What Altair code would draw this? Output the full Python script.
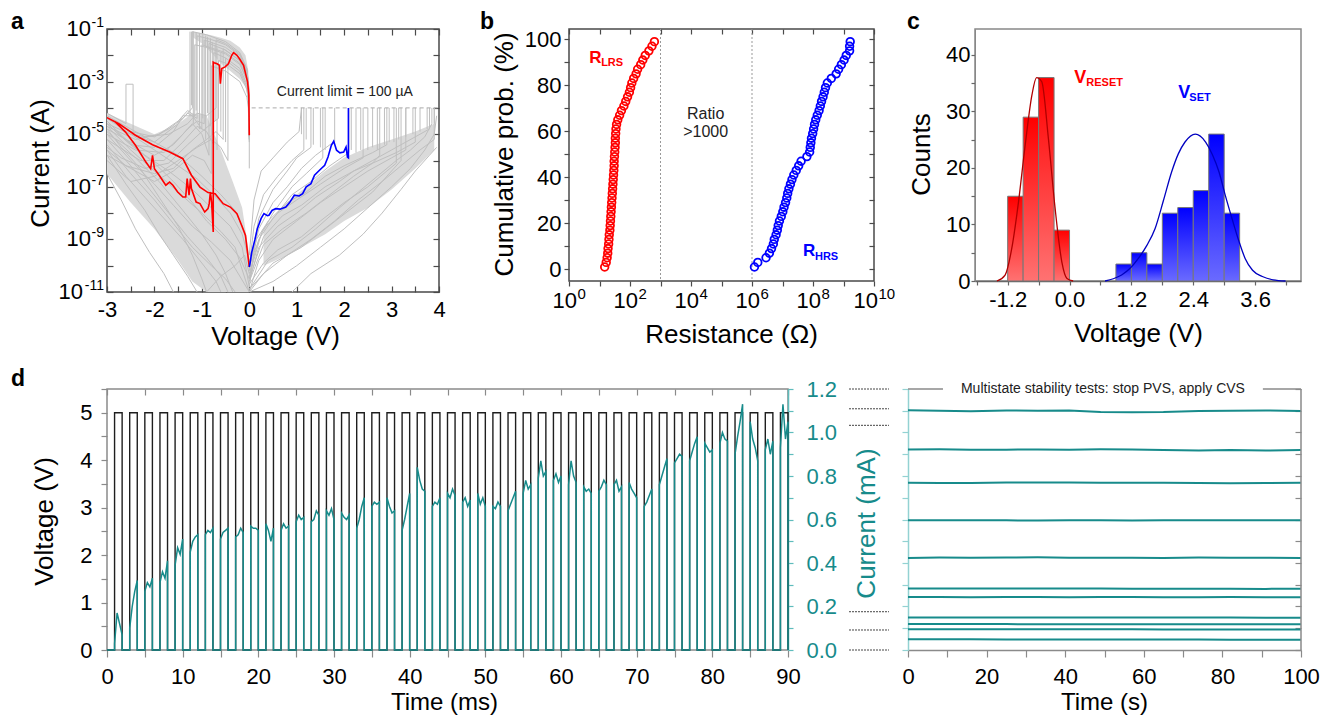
import altair as alt
import pandas as pd

FONT = "Liberation Sans"
TEAL = "#178b8b"
TEAL_AX = "#5fbcbc"
TEAL_AX2 = "#93d2d2"
DARK = "#4a4a4a"
GREY = "#8a8a8a"
LBL = 22
TTL = 26
MINUS = "\u2212"

# ---------------- panel a : I-V sweeps (values are log10 of current in A) ----------------
RED_V = [0, -0.01, -0.035, -0.12, -0.2, -0.26, -0.33, -0.37, -0.44, -0.51, -0.58, -0.61, -0.63, -0.68, -0.74,
         -0.76, -0.76, -0.795, -0.82, -0.845, -0.87, -0.94, -1.04, -1.12, -1.22, -1.24, -1.27, -1.31, -1.34,
         -1.40, -1.51, -1.61, -1.68, -1.76, -1.9, -2.0, -2.04, -2.08, -2.18, -2.4, -2.61, -2.82, -3.0, -2.75,
         -2.4, -2.04, -1.68, -1.40, -1.22, -1.04, -0.87, -0.72, -0.55, -0.40, -0.26, -0.16, -0.08, 0]
RED_LOGI = [-5.04, -3.5, -3.02, -2.38, -2.15, -2.0, -1.9, -2.0, -2.32, -2.44, -2.5, -3.08, -2.38, -2.32, -2.28,
            -2.26, -8.72, -7.58, -7.2, -7.64, -7.83, -7.96, -7.64, -7.58, -7.07, -6.69, -7.32, -6.69, -7.39,
            -7.39, -7.2, -6.94, -6.82, -6.94, -6.56, -6.31, -5.80, -6.31, -6.06, -5.42, -4.92, -4.54, -4.37, -4.6,
            -5.04, -5.40, -5.68, -5.93, -6.56, -7.01, -7.22, -7.26, -7.64, -7.77, -8.02, -8.47, -8.85, -10.05]
BLUE_V = [0, 0.02, 0.05, 0.12, 0.17, 0.25, 0.31, 0.38, 0.414, 0.48, 0.556, 0.65, 0.77, 0.85, 0.95, 1.05, 1.125,
          1.2, 1.30, 1.375, 1.48, 1.59, 1.66, 1.73, 1.78, 1.84, 1.91, 1.99, 2.04, 2.07, 2.09, 2.09]
BLUE_LOGI = [-10.05, -9.86, -9.5, -9.0, -8.59, -8.2, -8.02, -8.1, -8.08, -7.9, -7.83, -7.85, -7.77, -7.6, -7.32,
             -7.35, -7.26, -7.0, -6.88, -6.56, -6.37, -6.18, -5.87, -5.42, -5.27, -5.61, -5.71, -5.68, -5.49,
             -5.87, -5.9, -4.0]

GRAY_RESET = [
    [(0, -6.3), (0, -4.6), (-0.01, -3.2), (-0.05, -2.5), (-0.2, -1.9), (-0.5, -1.48), (-0.9, -1.22), (-1.2, -1.1),
     (-1.2, -4.0), (-1.4, -4.4), (-1.7, -4.8), (-2.0, -5.1), (-2.5, -4.9), (-3, -4.4)],
    [(0, -4.7), (-0.01, -3.3), (-0.05, -2.6), (-0.2, -2.0), (-0.5, -1.6), (-0.8, -1.4), (-1.1, -1.26),
     (-1.1, -4.4), (-1.3, -4.2), (-1.5, -4.6), (-2.0, -5.3), (-2.5, -5.0), (-3, -4.6)],
    [(0, -4.8), (-0.01, -3.4), (-0.05, -2.7), (-0.2, -2.1), (-0.5, -1.7), (-0.95, -1.42), (-0.95, -4.6),
     (-1.1, -4.5), (-1.3, -4.8), (-1.6, -5.4), (-2.0, -5.8), (-2.5, -5.3), (-3, -4.8)],
    [(0, -4.9), (-0.01, -3.5), (-0.05, -2.8), (-0.2, -2.2), (-0.5, -1.8), (-0.85, -1.55), (-0.85, -5.8),
     (-1.0, -5.0), (-1.2, -4.6), (-1.4, -5.0), (-1.8, -5.7), (-2.4, -5.6), (-3, -5.0)],
    [(0, -5.0), (-0.01, -3.6), (-0.05, -2.9), (-0.2, -2.3), (-0.5, -1.9), (-1.0, -1.6), (-1.0, -4.8),
     (-1.2, -4.3), (-1.4, -4.3), (-1.6, -4.9), (-2.0, -5.5), (-2.5, -5.4), (-3, -4.6)],
    [(0, -5.0), (-0.01, -3.8), (-0.05, -3.1), (-0.2, -2.5), (-0.5, -2.1), (-0.75, -1.9), (-0.75, -5.4),
     (-0.9, -4.9), (-1.1, -4.7), (-1.4, -5.3), (-1.8, -6.0), (-2.3, -6.0), (-3, -5.2)],
    [(0, -5.2), (-0.02, -3.7), (-0.05, -3.3), (-0.2, -2.7), (-0.5, -2.3), (-0.65, -2.2), (-0.65, -4.4),
     (-0.8, -4.6), (-1.0, -4.9), (-1.3, -5.4), (-1.7, -6.1), (-2.2, -6.3), (-2.7, -5.9), (-3, -5.5)],
    [(0, -5.3), (-0.02, -4.0), (-0.05, -3.6), (-0.2, -3.0), (-0.5, -2.6), (-0.8, -2.4), (-0.8, -6.5),
     (-0.95, -6.0), (-1.2, -5.8), (-1.6, -6.4), (-2.0, -6.8), (-2.5, -6.3), (-3, -5.8)],
    [(0, -4.9), (-0.01, -3.5), (-0.05, -2.8), (-0.2, -2.2), (-0.55, -1.75), (-0.55, -5.2), (-0.7, -4.9),
     (-0.9, -5.2), (-1.2, -5.6), (-1.6, -6.3), (-2.0, -6.5), (-2.6, -6.2), (-3, -5.6)],
    [(0, -4.7), (-0.01, -3.25), (-0.05, -2.55), (-0.2, -1.95), (-0.5, -1.55), (-0.7, -1.41), (-0.7, -4.0),
     (-0.9, -4.3), (-1.1, -4.2), (-1.3, -4.6), (-1.7, -5.0), (-2.2, -5.1), (-2.45, -5.0), (-2.45, -3.1),
     (-2.6, -3.1), (-2.6, -4.6), (-3, -4.2)],
    [(0, -5.1), (-0.01, -3.6), (-0.05, -2.95), (-0.2, -2.35), (-0.5, -1.95), (-0.9, -1.7), (-1.15, -1.6),
     (-1.15, -4.3), (-1.3, -4.1), (-1.5, -4.5), (-1.9, -5.0), (-2.4, -5.2), (-3, -4.7)],
    [(0, -5.2), (-0.01, -3.9), (-0.05, -3.2), (-0.2, -2.6), (-0.45, -2.25), (-0.45, -6.0), (-0.6, -5.5),
     (-0.8, -5.2), (-1.1, -5.5), (-1.5, -6.0), (-2.0, -6.6), (-2.5, -6.8), (-3, -6.0)],
]
# extra reset drops (V, top, bottom) and set jumps (V, start) seen as vertical grey strokes
RESET_DROPS = [(-1.25, -1.1, -4.3), (-1.22, -1.1, -3.9), (-1.18, -1.1, -4.6), (-1.12, -1.12, -4.1),
               (-1.05, -1.15, -4.8), (-0.98, -1.2, -4.4), (-0.92, -1.25, -5.2), (-0.88, -1.3, -4.2),
               (-0.82, -1.35, -4.7), (-0.78, -1.5, -5.0), (-0.72, -1.6, -4.5), (-0.68, -1.7, -5.6),
               (-0.6, -1.9, -4.9), (-0.5, -2.1, -5.3)]
SET_JUMPS = [(1.1, -5.0), (1.2, -5.2), (1.35, -5.4), (1.5, -5.5), (1.6, -5.6), (2.15, -5.6), (2.25, -5.7),
             (2.35, -5.6), (2.5, -5.6), (2.6, -5.5), (2.7, -5.6), (2.85, -5.4), (2.95, -5.3), (3.05, -5.3),
             (3.15, -5.2), (3.3, -5.1), (3.45, -5.0), (3.6, -4.9), (3.75, -4.8), (3.9, -4.6)]
SET_LIMIT = -4.0
GRAY_HRS_NEG = [
    [(-3, -4.3), (-2.5, -4.8), (-2, -5.3), (-1.5, -5.8), (-1.0, -6.6), (-0.6, -7.3), (-0.3, -7.9), (-0.1, -8.7), (0, -10.0)],
    [(-3, -4.5), (-2.6, -5.2), (-2.2, -5.8), (-1.7, -6.4), (-1.2, -7.1), (-0.8, -7.8), (-0.4, -8.5), (-0.15, -9.3), (0, -10.8)],
    [(-3, -4.7), (-2.5, -5.6), (-2.0, -6.4), (-1.5, -7.2), (-1.0, -8.0), (-0.6, -8.7), (-0.3, -9.3), (0, -11)],
    [(-3, -5.0), (-2.5, -6.0), (-2.0, -6.9), (-1.6, -7.7), (-1.2, -8.5), (-0.8, -9.1), (-0.4, -9.8), (0, -11)],
    [(-3, -5.4), (-2.5, -6.5), (-2.0, -7.5), (-1.6, -8.4), (-1.2, -9.3), (-0.8, -10.0), (-0.5, -10.5), (-0.3, -11)],
    [(-3, -5.8), (-2.6, -6.9), (-2.2, -7.9), (-1.9, -8.8), (-1.6, -9.6), (-1.3, -10.4), (-1.1, -11)],
    [(-3, -6.5), (-2.7, -7.5), (-2.4, -8.6), (-2.1, -9.5), (-1.8, -10.3), (-1.6, -11)],
    [(-3, -4.4), (-2.5, -5.0), (-2.0, -5.6), (-1.5, -6.2), (-1.1, -6.7), (-0.7, -7.4), (-0.4, -8.0), (-0.15, -8.8), (0, -9.8)],
    [(-3, -4.9), (-2.4, -5.9), (-1.9, -6.8), (-1.4, -7.9), (-1.0, -8.8), (-0.7, -9.6), (-0.5, -10.3), (-0.35, -11)],
    [(-3, -5.2), (-2.5, -6.2), (-2.1, -7.1), (-1.7, -8.0), (-1.3, -8.9), (-0.9, -9.7), (-0.6, -10.4), (-0.45, -11)],
    [(-3, -4.6), (-2.5, -5.4), (-2.0, -6.1), (-1.6, -6.8), (-1.2, -7.6), (-0.9, -8.3), (-0.5, -9.0), (-0.2, -9.7), (0, -10.5)],
    [(-3, -5.6), (-2.6, -6.6), (-2.2, -7.4), (-1.8, -8.2), (-1.4, -9.0), (-1.0, -9.9), (-0.7, -10.6), (-0.6, -11)],
    [(-0.9, -11), (-0.6, -10.4), (-0.3, -10.0), (-0.1, -9.6), (0, -10.3)],
    [(-3, -4.8), (-2.7, -5.5), (-2.3, -6.3), (-1.9, -7.4), (-1.5, -8.5), (-1.2, -9.6), (-1.0, -10.5), (-0.9, -11)],
]
GRAY_SET = [
    [(0, -10.8), (0.1, -9.5), (0.3, -8.6), (0.6, -8.0), (1.0, -7.5), (1.5, -6.9), (2.0, -6.3), (2.4, -5.9), (2.4, -4.0)],
    [(0, -10.5), (0.15, -9.0), (0.4, -8.3), (0.8, -7.6), (1.2, -7.2), (1.6, -6.6), (2.0, -6.2), (2.6, -5.7), (2.9, -5.4), (2.9, -4.0)],
    [(0, -10.0), (0.1, -8.5), (0.3, -7.3), (0.6, -6.6), (0.9, -6.0), (1.15, -5.6), (1.15, -4.0)],
    [(0, -11), (0.2, -9.8), (0.5, -9.0), (1.0, -8.3), (1.5, -7.6), (2.0, -7.0), (2.5, -6.4), (3.0, -5.9), (3.3, -5.6), (3.3, -4.0)],
    [(0, -11), (0.3, -10.3), (0.8, -9.6), (1.3, -9.0), (1.8, -8.3), (2.3, -7.5), (2.8, -6.8), (3.2, -6.2), (3.6, -5.6), (3.9, -5.2), (3.9, -4.0)],
    [(0.9, -11), (1.3, -10.3), (1.9, -9.6), (2.4, -8.8), (2.8, -8.0), (3.2, -7.1), (3.5, -6.4), (3.8, -5.8), (3.95, -5.5)],
    [(0, -10.2), (0.2, -8.2), (0.5, -7.1), (0.8, -6.4), (1.0, -5.9), (1.3, -5.5), (1.3, -4.0)],
    [(0, -10.6), (0.3, -9.2), (0.7, -8.6), (1.2, -8.0), (1.7, -7.3), (2.2, -6.6), (2.6, -6.1), (3.1, -5.7), (3.5, -5.3), (3.5, -4.0)],
    [(0, -10.9), (0.4, -9.8), (0.9, -9.3), (1.4, -8.6), (1.9, -7.8), (2.3, -7.2), (2.7, -6.6), (3.1, -6.0), (3.4, -5.6), (3.7, -5.1), (3.85, -4.6), (3.85, -4.0)],
    [(0, -10.3), (0.2, -9.0), (0.5, -8.2), (0.9, -7.3), (1.3, -6.8), (1.7, -6.2), (2.1, -5.7), (2.1, -4.0)],
    [(0, -10.7), (0.3, -9.9), (0.6, -9.4), (1.1, -8.9), (1.5, -8.3), (2.0, -7.6), (2.5, -7.0), (2.9, -6.4), (3.1, -6.1), (3.1, -4.0)],
    [(0, -10.4), (0.25, -8.8), (0.5, -8.0), (0.9, -7.0), (1.2, -6.5), (1.55, -5.9), (1.55, -4.0)],
    [(0, -11), (0.5, -10.6), (1.0, -10.0), (1.5, -9.3), (2.0, -8.6), (2.5, -7.8), (3.0, -7.0), (3.4, -6.3), (3.7, -5.6), (3.9, -5.0), (3.95, -4.3)],
    [(0, -10.1), (0.2, -8.6), (0.5, -7.6), (0.8, -7.0), (1.1, -6.3), (1.4, -5.8), (1.7, -5.4), (1.8, -5.3), (1.8, -4.0)],
    [(0, -9.6), (0.1, -7.5), (0.25, -6.4), (0.5, -5.9), (0.8, -5.3), (1.05, -4.9), (1.1, -4.0)],
    [(0, -10.5), (0.3, -8.9), (0.7, -8.1), (1.1, -7.7), (1.6, -7.0), (2.1, -6.5), (2.6, -6.0), (3.0, -5.6), (3.6, -5.0), (3.8, -4.8), (3.8, -4.0)],
    [(0, -10.9), (0.5, -9.9), (1.1, -9.3), (1.6, -8.6), (2.1, -7.9), (2.6, -7.2), (3.0, -6.4), (3.2, -6.0), (3.2, -4.0)],
    [(0, -10.6), (0.2, -9.3), (0.6, -8.5), (1.0, -8.0), (1.4, -7.4), (1.9, -6.8), (2.2, -6.4), (2.6, -6.1), (2.75, -5.8), (2.75, -4.0)],
]
# dense cores of the grey bundles (where the many sweeps merge into a solid grey)
ARC_BAND_V = [-1.2, -1.0, -0.8, -0.6, -0.4, -0.2, -0.08, -0.02, 0]
ARC_BAND_HI = [-1.1, -1.16, -1.24, -1.33, -1.45, -1.7, -2.0, -2.6, -4.3]
ARC_BAND_LO = [-1.3, -1.55, -1.9, -2.3, -2.6, -2.9, -3.2, -3.7, -5.0]
NEG_BAND_V = [-3, -2.5, -2.0, -1.5, -1.2, -0.9, -0.6, -0.35, -0.15, 0]
NEG_BAND_HI = [-4.2, -4.6, -5.0, -4.6, -4.2, -4.3, -5.6, -6.8, -7.8, -9.6]
NEG_BAND_LO = [-6.5, -7.6, -8.6, -9.8, -10.6, -11, -11, -11, -11, -11]
POS_BAND_V = [0.3, 0.8, 1.2, 1.6, 2.0, 2.5, 3.0, 3.5, 3.9]
POS_BAND_HI = [-8.6, -7.6, -7.0, -6.4, -5.9, -5.5, -5.2, -4.9, -4.6]
POS_BAND_LO = [-10.0, -9.6, -9.2, -8.8, -8.3, -7.8, -7.1, -6.3, -5.6]

LIMIT_V = [0.05, 3.98]
LIMIT_LOGI = -4.0
A_XTICKS = [-3, -2.5, -2, -1.5, -1, -0.5, 0, 0.5, 1, 1.5, 2, 2.5, 3, 3.5, 4]
A_YTICKS = [-11, -10, -9, -8, -7, -6, -5, -4, -3, -2, -1]
A_YLABEL_EXP = [-11, -9, -7, -5, -3, -1]

# ---------------- panel b : cumulative probability ----------------
PROB = [1, 3, 5, 7, 9, 11, 13, 15, 17, 19, 21, 23, 25, 27, 29, 31, 33, 35, 37, 39, 41, 43, 45, 47, 49,
        51, 53, 55, 57, 59, 61, 63, 65, 67, 69, 71, 73, 75, 77, 79, 81, 83, 85, 87, 89, 91, 93, 95, 97, 99]
LRS_LOGR = [1.17, 1.22, 1.25, 1.27, 1.28, 1.30, 1.31, 1.32, 1.34, 1.35, 1.36, 1.37, 1.38, 1.39, 1.40, 1.41,
            1.42, 1.43, 1.44, 1.45, 1.46, 1.47, 1.48, 1.48, 1.49, 1.50, 1.51, 1.52, 1.52, 1.53, 1.54, 1.56,
            1.60, 1.66, 1.72, 1.80, 1.86, 1.92, 1.98, 2.02, 2.06, 2.12, 2.20, 2.25, 2.35, 2.42, 2.50, 2.62,
            2.72, 2.80]
HRS_LOGR = [6.08, 6.19, 6.46, 6.57, 6.64, 6.70, 6.73, 6.79, 6.83, 6.86, 6.90, 6.96, 7.01, 7.05, 7.10, 7.14,
            7.17, 7.21, 7.26, 7.31, 7.37, 7.45, 7.53, 7.61, 7.80, 7.89, 7.91, 7.93, 7.95, 7.99, 8.02, 8.05,
            8.09, 8.14, 8.20, 8.24, 8.28, 8.33, 8.37, 8.41, 8.47, 8.60, 8.76, 8.84, 8.93, 9.02, 9.09, 9.20,
            9.20, 9.22]
B_XTICKS = [0, 1, 2, 3, 4, 5, 6, 7, 8, 9, 10]
B_XLABEL_EXP = [0, 2, 4, 6, 8]
B_XLABEL_EXP2 = [10]
B_YTICKS = [0, 10, 20, 30, 40, 50, 60, 70, 80, 90, 100]
B_GUIDES = [3, 6]

# ---------------- panel c : histograms ----------------
BIN_W = 0.3
RESET_BIN = [-1.2, -0.9, -0.6, -0.3]
RESET_CNT = [15, 29, 36, 9]
SET_BIN = [0.9, 1.2, 1.5, 1.8, 2.1, 2.4, 2.7, 3.0]
SET_CNT = [3, 5, 3, 12, 13, 16, 26, 12]
RESET_FIT_V = [-1.41, -1.25, -1.12, -0.99, -0.86, -0.73, -0.64, -0.54, -0.41, -0.28, -0.15, -0.05, 0.07]
RESET_FIT_N = [0, 1.06, 5.8, 14.0, 24.1, 32.9, 36.0, 35.3, 25.2, 12.85, 3.4, 0.46, 0]
SET_FIT_V = [0.69, 0.85, 1.01, 1.17, 1.335, 1.5, 1.66, 1.82, 1.98, 2.11, 2.24, 2.44, 2.64, 2.77, 2.90, 3.02,
             3.15, 3.28, 3.406, 3.55, 3.74, 3.95, 4.19]
SET_FIT_N = [0, 0.4, 1.06, 2.2, 4.0, 6.3, 9.3, 14.2, 19.3, 22.5, 24.6, 26.0, 24.6, 22.4, 19.3, 15.2, 11.1, 7.2,
             4.0, 1.9, 0.8, 0.2, 0]
C_XTICKS = [-1.8, -1.2, -0.6, 0, 0.6, 1.2, 1.8, 2.4, 3.0, 3.6, 4.2]
C_YTICKS = [0, 5, 10, 15, 20, 25, 30, 35, 40]

# ---------------- panel d (left) : pulse train ----------------
PULSE_START = [1, 3, 5, 7, 9, 11, 13, 15, 17, 19, 21, 23, 25, 27, 29, 31, 33, 35, 37, 39, 41, 43, 45,
               47, 49, 51, 53, 55, 57, 59, 61, 63, 65, 67, 69, 71, 73, 75, 77, 79, 81, 83, 85, 87, 89]
PULSE_WIDTH = 1.0
V_HIGH = 5.0
I_LEVELS = [
    [0.03, 0.17, 0.12, 0.07], [0.10, 0.20, 0.27, 0.32], [0.27, 0.31, 0.29, 0.33], [0.31, 0.36, 0.33, 0.41],
    [0.39, 0.47, 0.44, 0.51], [0.45, 0.50, 0.52, 0.53], [0.53, 0.55, 0.54, 0.56], [0.51, 0.54, 0.55, 0.56],
    [0.52, 0.53, 0.56, 0.54], [0.57, 0.56, 0.56, 0.55], [0.58, 0.55, 0.50, 0.56], [0.55, 0.58, 0.56, 0.57],
    [0.59, 0.62, 0.60, 0.61], [0.59, 0.60, 0.64, 0.62], [0.64, 0.62, 0.65, 0.60], [0.63, 0.61, 0.60, 0.62],
    [0.56, 0.60, 0.66, 0.70], [0.66, 0.68, 0.67, 0.68], [0.70, 0.66, 0.63, 0.64], [0.55, 0.60, 0.66, 0.72],
    [0.84, 0.78, 0.74, 0.73], [0.66, 0.68, 0.67, 0.70], [0.72, 0.70, 0.74, 0.71], [0.68, 0.70, 0.66, 0.69],
    [0.72, 0.67, 0.70, 0.66], [0.66, 0.65, 0.68, 0.66], [0.64, 0.67, 0.70, 0.73], [0.72, 0.78, 0.74, 0.76],
    [0.79, 0.87, 0.80, 0.82], [0.78, 0.81, 0.77, 0.80], [0.76, 0.87, 0.80, 0.77], [0.75, 0.73, 0.74, 0.72],
    [0.73, 0.75, 0.78, 0.76], [0.76, 0.78, 0.73, 0.75], [0.77, 0.74, 0.72, 0.70], [0.66, 0.68, 0.71, 0.74],
    [0.76, 0.80, 0.84, 0.88], [0.86, 0.88, 0.90, 0.89], [0.87, 0.91, 0.95, 0.98], [0.95, 0.93, 0.91, 0.92],
    [0.95, 1.00, 0.97, 0.96], [0.90, 0.98, 1.05, 1.13], [1.05, 0.97, 0.93, 0.87], [0.92, 0.97, 0.90, 0.96],
    [0.93, 1.13, 0.97, 1.05],
]
D_XTICKS = [0, 5, 10, 15, 20, 25, 30, 35, 40, 45, 50, 55, 60, 65, 70, 75, 80, 85, 90]
D_VTICKS = [0, 0.5, 1, 1.5, 2, 2.5, 3, 3.5, 4, 4.5, 5, 5.5]
D_ITICKS = [0, 0.1, 0.2, 0.3, 0.4, 0.5, 0.6, 0.7, 0.8, 0.9, 1.0, 1.1, 1.2]
GUIDE_LEVELS = [1.2, 1.109, 1.033, 0.176, 0.092, 0.0]

# ---------------- panel d (right) : multistate retention ----------------
DR_T = [0, 8, 16, 25, 33, 41, 49, 57, 65, 74, 82, 91, 100]
DR_LEVELS = [
    [1.102, 1.100, 1.098, 1.101, 1.100, 1.101, 1.094, 1.093, 1.094, 1.099, 1.100, 1.101, 1.099],
    [0.922, 0.923, 0.921, 0.921, 0.922, 0.921, 0.923, 0.922, 0.920, 0.917, 0.919, 0.917, 0.919],
    [0.769, 0.768, 0.768, 0.770, 0.770, 0.770, 0.769, 0.769, 0.769, 0.768, 0.767, 0.768, 0.769],
    [0.597, 0.596, 0.597, 0.596, 0.595, 0.596, 0.596, 0.595, 0.596, 0.596, 0.597, 0.596, 0.596],
    [0.423, 0.425, 0.424, 0.425, 0.426, 0.424, 0.424, 0.424, 0.423, 0.425, 0.424, 0.424, 0.423],
    [0.283, 0.283, 0.283, 0.283, 0.283, 0.283, 0.283, 0.282, 0.282, 0.282, 0.282, 0.281, 0.282],
    [0.244, 0.244, 0.243, 0.244, 0.244, 0.243, 0.244, 0.244, 0.243, 0.243, 0.244, 0.243, 0.243],
    [0.150, 0.150, 0.149, 0.149, 0.149, 0.149, 0.149, 0.149, 0.149, 0.149, 0.149, 0.148, 0.148],
    [0.119, 0.119, 0.119, 0.119, 0.118, 0.118, 0.118, 0.118, 0.118, 0.118, 0.118, 0.118, 0.118],
    [0.095, 0.095, 0.095, 0.095, 0.095, 0.095, 0.095, 0.095, 0.094, 0.094, 0.094, 0.094, 0.094],
    [0.049, 0.049, 0.049, 0.048, 0.048, 0.048, 0.048, 0.048, 0.048, 0.048, 0.047, 0.047, 0.047],
]
DR_XTICKS = [0, 10, 20, 30, 40, 50, 60, 70, 80, 90, 100]
DR_GAP = [8.9, 90.3]

# ======================= helpers =======================
ONE = pd.DataFrame({"k": [0]})


def curves_df(curves):
    rows = []
    for k, c in enumerate(curves):
        for i, (x, y) in enumerate(c):
            rows.append({"curve": k, "i": i, "x": x, "y": y})
    return pd.DataFrame(rows)


def series_df(xs, ys):
    return pd.DataFrame({"x": xs, "y": ys, "i": list(range(len(xs)))})


def letter(ch, dx, dy):
    return alt.Chart(ONE).mark_text(text=ch, fontSize=23, fontWeight="bold", font=FONT, align="left",
                                    baseline="alphabetic", color="black").encode(
        x=alt.value(dx), y=alt.value(dy))


def spacer(x1, y1, x2, y2):
    return alt.Chart(ONE).mark_rule(opacity=0).encode(
        x=alt.value(x1), y=alt.value(y1), x2=alt.value(x2), y2=alt.value(y2))


def mirror(orient, values, size=6, color=DARK):
    return alt.Axis(orient=orient, offset=-size, values=values, tickSize=size, labels=False, domain=False,
                    title=None, tickColor=color, tickWidth=1.2)


def hidden(orient):
    return alt.Axis(orient=orient, ticks=False, labels=False, domain=False, title=None)


# ======================= panel a =======================
WA, HA = 332, 263
XA = alt.Scale(domain=[-3, 4], nice=False, zero=False)
YA = alt.Scale(domain=[-11, -1], nice=False, zero=False)

ax_a_b = alt.Axis(orient="bottom", offset=-6, values=A_XTICKS, tickSize=6, domain=False, labelPadding=7,
                  tickColor=DARK, tickWidth=1.2,
                  labelExpr="datum.value % 1 == 0 ? replace(format(datum.value, 'd'), '" + MINUS + "', '-') : ''",
                  title="Voltage (V)", titleX=168, titleY=50, titleBaseline="middle", titleAlign="center")
ax_a_l = alt.Axis(orient="left", offset=-6, values=A_YTICKS, tickSize=6, domain=False, labels=False,
                  tickColor=DARK, tickWidth=1.2,
                  title="Current (A)", titleX=-73, titleY=134, titleAngle=270, titleBaseline="middle",
                  titleAlign="center")


def band(vs, his, los):
    return pd.DataFrame({"x": vs, "y": his, "y2": los})


band_layers = [
    alt.Chart(band(v, h, l)).mark_area(color="#dadada", clip=True).encode(
        x=alt.X("x:Q", scale=XA, axis=None), y=alt.Y("y:Q", scale=YA, axis=None), y2="y2:Q")
    for v, h, l in [(ARC_BAND_V, ARC_BAND_HI, ARC_BAND_LO), (NEG_BAND_V, NEG_BAND_HI, NEG_BAND_LO),
                    (POS_BAND_V, POS_BAND_HI, POS_BAND_LO)]
]
drops = [[(v, t), (v, b)] for v, t, b in RESET_DROPS] + [[(v, s), (v, SET_LIMIT)] for v, s in SET_JUMPS]
gray_df = curves_df(GRAY_RESET + GRAY_HRS_NEG + GRAY_SET + drops)
a_gray = alt.Chart(gray_df).mark_line(color="#bfbfbf", strokeWidth=1, clip=True).encode(
    x=alt.X("x:Q", scale=XA, axis=ax_a_b), y=alt.Y("y:Q", scale=YA, axis=ax_a_l),
    detail="curve:N", order="i:Q")
a_red = alt.Chart(series_df(RED_V, RED_LOGI)).mark_line(color="#ff0000", strokeWidth=1.6, clip=True).encode(
    x=alt.X("x:Q", scale=XA, axis=mirror("top", A_XTICKS)),
    y=alt.Y("y:Q", scale=YA, axis=mirror("right", A_YTICKS)), order="i:Q")
a_blue = alt.Chart(series_df(BLUE_V, BLUE_LOGI)).mark_line(color="#0000ff", strokeWidth=1.6, clip=True).encode(
    x=alt.X("x:Q", scale=XA, axis=None), y=alt.Y("y:Q", scale=YA, axis=None), order="i:Q")
a_limit = alt.Chart(pd.DataFrame({"x": [LIMIT_V[0]], "x2": [LIMIT_V[1]], "y": [LIMIT_LOGI]})).mark_rule(
    color="#aaaaaa", strokeDash=[4, 3], strokeWidth=1).encode(
    x=alt.X("x:Q", scale=XA, axis=None), x2="x2:Q", y=alt.Y("y:Q", scale=YA, axis=None))
a_text = alt.Chart(pd.DataFrame({"x": [0.58], "y": [-3.4], "t": ["Current limit = 100 \u00b5A"]})).mark_text(
    align="left", baseline="middle", fontSize=14, font=FONT, color="#222222").encode(
    x=alt.X("x:Q", scale=XA, axis=None), y=alt.Y("y:Q", scale=YA, axis=None), text="t:N")

# y tick labels written as 10 with a raised exponent
ylab = pd.DataFrame({"y": A_YLABEL_EXP, "e": [str(e) for e in A_YLABEL_EXP],
                     "wide": [len(str(e)) > 2 for e in A_YLABEL_EXP]})
a_exp = alt.Chart(ylab).mark_text(align="right", baseline="middle", fontSize=14, font=FONT, dy=-6,
                                  color="black").encode(
    x=alt.value(-3), y=alt.Y("y:Q", scale=YA, axis=None), text="e:N")
a_ten1 = alt.Chart(ylab).transform_filter("!datum.wide").mark_text(
    align="right", baseline="middle", fontSize=LBL, font=FONT, color="black").encode(
    x=alt.value(-16), y=alt.Y("y:Q", scale=YA, axis=None), text=alt.value("10"))
a_ten2 = alt.Chart(ylab).transform_filter("datum.wide").mark_text(
    align="right", baseline="middle", fontSize=LBL, font=FONT, color="black").encode(
    x=alt.value(-24), y=alt.Y("y:Q", scale=YA, axis=None), text=alt.value("10"))

panel_a = alt.layer(*band_layers, a_gray, a_red, a_blue, a_limit, a_text, a_exp, a_ten1, a_ten2,
                    letter("a", -96, 0), spacer(0, -20, 371, 329)).properties(width=WA, height=HA)

# ======================= panel b =======================
WB, HB = 305, 252
XB = alt.Scale(domain=[0, 10], nice=False, zero=False)
YB = alt.Scale(domain=[-5.1, 104.5], nice=False, zero=False)
ax_b_b = alt.Axis(orient="bottom", values=B_XTICKS, tickSize=5, domain=False, labels=False, tickColor=DARK,
                  tickWidth=1.2, title="Resistance (\u03a9)", titleX=162, titleY=53, titleBaseline="middle",
                  titleAlign="center")
ax_b_l = alt.Axis(orient="left", values=B_YTICKS, tickSize=5, domain=False, labelPadding=3, tickColor=DARK,
                  tickWidth=1.2, labelExpr="datum.value % 20 == 0 ? datum.label : ''",
                  title="Cumulative prob. (%)", titleX=-65, titleY=125, titleAngle=270, titleBaseline="middle",
                  titleAlign="center")
b_guides = alt.Chart(pd.DataFrame({"x": B_GUIDES})).mark_rule(color="#999999", strokeDash=[2, 2],
                                                             strokeWidth=1).encode(
    x=alt.X("x:Q", scale=XB, axis=None))
b_lrs = alt.Chart(pd.DataFrame({"x": LRS_LOGR, "y": PROB})).mark_point(
    shape="circle", filled=False, size=58, strokeWidth=1.8, color="#ff0000", opacity=1).encode(
    x=alt.X("x:Q", scale=XB, axis=ax_b_b), y=alt.Y("y:Q", scale=YB, axis=ax_b_l))
b_hrs = alt.Chart(pd.DataFrame({"x": HRS_LOGR, "y": PROB})).mark_point(
    shape="circle", filled=False, size=58, strokeWidth=1.8, color="#0000ff", opacity=1).encode(
    x=alt.X("x:Q", scale=XB, axis=mirror("top", B_XTICKS, 5)),
    y=alt.Y("y:Q", scale=YB, axis=mirror("right", B_YTICKS, 5)))
b_ratio = alt.Chart(pd.DataFrame({"x": [4.48, 4.48], "y": [67.5, 59.7], "t": ["Ratio", ">1000"]})).mark_text(
    fontSize=16, font=FONT, color="#222222", align="center", baseline="middle").encode(
    x=alt.X("x:Q", scale=XB, axis=None), y=alt.Y("y:Q", scale=YB, axis=None), text="t:N")


def xexp_labels(exps, joint):
    d = pd.DataFrame({"x": exps, "e": [str(e) for e in exps]})
    ten = alt.Chart(d).mark_text(align="right", baseline="middle", fontSize=LBL, font=FONT, color="black",
                                 dx=joint).encode(
        x=alt.X("x:Q", scale=XB, axis=None), y=alt.value(HB + 20), text=alt.value("10"))
    ex = alt.Chart(d).mark_text(align="left", baseline="middle", fontSize=15, font=FONT, color="black",
                                dx=joint + 0.5).encode(
        x=alt.X("x:Q", scale=XB, axis=None), y=alt.value(HB + 13), text="e:N")
    return [ten, ex]


b_xlabels = xexp_labels(B_XLABEL_EXP, 8) + xexp_labels(B_XLABEL_EXP2, 4)


def sub_label(scale_x, scale_y, x, y, main, sub, color, size_main, size_sub, ddx, ddy):
    d = pd.DataFrame({"x": [x], "y": [y], "m": [main], "s": [sub]})
    m = alt.Chart(d).mark_text(fontSize=size_main, fontWeight="bold", font=FONT, color=color, align="left",
                               baseline="middle").encode(
        x=alt.X("x:Q", scale=scale_x, axis=None), y=alt.Y("y:Q", scale=scale_y, axis=None), text="m:N")
    s = alt.Chart(d).mark_text(fontSize=size_sub, fontWeight="bold", font=FONT, color=color, align="left",
                               baseline="middle", dx=ddx, dy=ddy).encode(
        x=alt.X("x:Q", scale=scale_x, axis=None), y=alt.Y("y:Q", scale=scale_y, axis=None), text="s:N")
    return [m, s]


b_labels = (sub_label(XB, YB, 0.66, 91.9, "R", "LRS", "#ff0000", 17, 11, 12, 5)
            + sub_label(XB, YB, 7.67, 8.0, "R", "HRS", "#0000ff", 17, 11, 12, 6))
panel_b = alt.layer(b_guides, b_lrs, b_hrs, b_ratio, *b_labels, *b_xlabels, letter("b", -89, 0),
                    spacer(-89, -20, 334, 0)).properties(width=WB, height=HB)

# ======================= panel c =======================
WC, HC = 326, 252
XC = alt.Scale(domain=[-1.834, 4.49], nice=False, zero=False)
YC = alt.Scale(domain=[0, 44.6], nice=False, zero=False)
ax_c_b = alt.Axis(orient="bottom", values=C_XTICKS, tickSize=4, domain=True, domainColor="#666666",
                  domainWidth=1.5, labelPadding=4, tickColor="#666666", tickWidth=1.2,
                  labelExpr="abs(datum.value/1.2 - round(datum.value/1.2)) < 0.01 ? replace(format(datum.value, '.1f'), '"
                            + MINUS + "', '-') : ''",
                  title="Voltage (V)", titleX=163, titleY=52, titleBaseline="middle", titleAlign="center")
ax_c_l = alt.Axis(orient="left", values=C_YTICKS, tickSize=4, domain=True, domainColor="#888888", labelPadding=1,
                  tickColor="#666666", tickWidth=1.2, labelExpr="datum.value % 10 == 0 ? datum.label : ''",
                  title="Counts", titleX=-54, titleY=125, titleAngle=270, titleBaseline="middle",
                  titleAlign="center")


def grad(top, bottom):
    return {"gradient": "linear", "x1": 0, "y1": 0, "x2": 0, "y2": 1,
            "stops": [{"offset": 0, "color": top}, {"offset": 1, "color": bottom}]}


def bars_df(starts, counts):
    return pd.DataFrame({"x": starts, "x2": [s + BIN_W for s in starts], "y": counts, "y0": [0] * len(starts)})


c_red = alt.Chart(bars_df(RESET_BIN, RESET_CNT)).mark_bar(
    fill=grad("#ff0000", "#ff7272"), stroke="#777777", strokeWidth=1).encode(
    x=alt.X("x:Q", scale=XC, axis=ax_c_b), x2="x2:Q", y=alt.Y("y:Q", scale=YC, axis=ax_c_l), y2="y0:Q")
c_blue = alt.Chart(bars_df(SET_BIN, SET_CNT)).mark_bar(
    fill=grad("#0000ff", "#6a6aff"), stroke="#777777", strokeWidth=1).encode(
    x=alt.X("x:Q", scale=XC, axis=hidden("top")), x2="x2:Q",
    y=alt.Y("y:Q", scale=YC, axis=hidden("right")), y2="y0:Q")
c_rfit = alt.Chart(series_df(RESET_FIT_V, RESET_FIT_N)).mark_line(
    color="#b00000", strokeWidth=1.3, interpolate="monotone").encode(
    x=alt.X("x:Q", scale=XC, axis=None), y=alt.Y("y:Q", scale=YC, axis=None), order="i:Q")
c_bfit = alt.Chart(series_df(SET_FIT_V, SET_FIT_N)).mark_line(
    color="#0000c0", strokeWidth=1.3, interpolate="monotone").encode(
    x=alt.X("x:Q", scale=XC, axis=None), y=alt.Y("y:Q", scale=YC, axis=None), order="i:Q")
c_labels = (sub_label(XC, YC, 0.093, 36.0, "V", "RESET", "#ff0000", 18, 11, 12, 5)
            + sub_label(XC, YC, 2.11, 33.3, "V", "SET", "#0000ff", 18, 11, 11, 5))
panel_c = alt.layer(c_red, c_blue, c_rfit, c_bfit, *c_labels, letter("c", -68, 0),
                    spacer(-70, -20, 0, 0)).properties(width=WC, height=HC,
                                                       view=alt.ViewBackground(stroke="#888888"))

# ======================= panel d (left) =======================
WD1, HD = 681, 261
XD = alt.Scale(domain=[0, 90], nice=False, zero=False)
YV = alt.Scale(domain=[0, 5.5], nice=False, zero=False)
YI = alt.Scale(domain=[0, 1.2], nice=False, zero=False)

v_rows = [(0.0, 0.0)]
i_rows = [(0.0, 0.0)]
for s, lv in zip(PULSE_START, I_LEVELS):
    e = s + PULSE_WIDTH
    v_rows += [(s, 0.0), (s, V_HIGH), (e, V_HIGH), (e, 0.0)]
    i_rows += [(s, 0.0), (s, lv[0]), (s + PULSE_WIDTH / 3, lv[1]), (s + 2 * PULSE_WIDTH / 3, lv[2]),
               (e, lv[3]), (e, 0.0)]
v_df = series_df([r[0] for r in v_rows], [r[1] for r in v_rows])
i_df = series_df([r[0] for r in i_rows], [r[1] for r in i_rows])

ax_d_b = alt.Axis(orient="bottom", values=D_XTICKS, tickSize=7, domain=False, labelPadding=9, tickColor=GREY,
                  tickWidth=1.2, labelExpr="datum.value % 10 == 0 ? datum.label : ''",
                  title="Time (ms)", titleX=337, titleY=52, titleBaseline="middle", titleAlign="center",
                  titleFontSize=24)
ax_d_l = alt.Axis(orient="left", values=D_VTICKS, tickSize=6, domain=False, labelPadding=9, tickColor=GREY,
                  tickWidth=1.2, labelExpr="datum.value % 1 == 0 ? format(datum.value, 'd') : ''",
                  title="Voltage (V)", titleX=-63, titleY=132, titleAngle=270, titleBaseline="middle",
                  titleAlign="center")
ax_d_r = alt.Axis(orient="right", values=D_ITICKS, tickSize=5, domain=True, domainColor=TEAL_AX, domainWidth=1.5,
                  tickColor=TEAL_AX, tickWidth=1.2, labelColor=TEAL, labelPadding=13,
                  labelExpr="abs(datum.value*5 - round(datum.value*5)) < 0.01 ? format(datum.value, '.1f') : ''",
                  title="Current (mA)", titleColor=TEAL, titleX=78, titleY=134, titleAngle=270,
                  titleBaseline="middle", titleAlign="center")

d_volt = alt.Chart(v_df).mark_line(color="#1e1e1e", strokeWidth=1.4).encode(
    x=alt.X("x:Q", scale=XD, axis=ax_d_b), y=alt.Y("y:Q", scale=YV, axis=ax_d_l), order="i:Q")
d_cur = alt.Chart(i_df).mark_line(color=TEAL, strokeWidth=1.5).encode(
    x=alt.X("x:Q", scale=XD, axis=mirror("top", D_XTICKS, 6, GREY)),
    y=alt.Y("y:Q", scale=YI, axis=ax_d_r), order="i:Q")
d_guides = alt.Chart(pd.DataFrame({"y": GUIDE_LEVELS})).mark_rule(color="#444444", strokeDash=[2, 1],
                                                                 strokeWidth=1).encode(
    x=alt.value(742), x2=alt.value(782), y=alt.Y("y:Q", scale=YI, axis=None))
panel_dl = alt.layer(d_volt, d_cur, d_guides, letter("d", -96, -3), spacer(0, -29, 790, 0)).resolve_scale(
    y="independent").properties(width=WD1, height=HD, view=alt.ViewBackground(stroke=GREY))

# ======================= panel d (right) =======================
WD2 = 393
XR = alt.Scale(domain=[0, 100], nice=False, zero=False)
dr_rows = []
for k, lv in enumerate(DR_LEVELS):
    for i, (t, v) in enumerate(zip(DR_T, lv)):
        dr_rows.append({"curve": k, "i": i, "x": t, "y": v})
dr_df = pd.DataFrame(dr_rows)

ax_r_b = alt.Axis(orient="bottom", values=DR_XTICKS, tickSize=7, domain=True, domainColor=GREY, domainWidth=1.5,
                  labelPadding=9, tickColor=GREY, tickWidth=1.2,
                  labelExpr="datum.value % 20 == 0 ? datum.label : ''",
                  title="Time (s)", titleX=196, titleY=52, titleBaseline="middle", titleAlign="center",
                  titleFontSize=24)
ax_r_l = alt.Axis(orient="left", values=D_ITICKS, tickSize=6, domain=True, domainColor=TEAL_AX2, domainWidth=1.5,
                  tickColor=TEAL_AX2, tickWidth=1.2, labels=False, title=None)

r_lines = alt.Chart(dr_df).mark_line(color=TEAL, strokeWidth=2).encode(
    x=alt.X("x:Q", scale=XR, axis=ax_r_b), y=alt.Y("y:Q", scale=YI, axis=ax_r_l), detail="curve:N",
    order="i:Q")
r_border = alt.Chart(pd.DataFrame({"x": [100], "y": [0.0], "y2": [1.2]})).mark_rule(
    color=GREY, strokeWidth=1.5).encode(
    x=alt.X("x:Q", scale=XR, axis=hidden("top")),
    y=alt.Y("y:Q", scale=YI, axis=mirror("right", D_ITICKS, 6, GREY)), y2="y2:Q")
r_top = alt.Chart(pd.DataFrame({"x": [0, DR_GAP[1]], "x2": [DR_GAP[0], 100], "y": [1.2, 1.2]})).mark_rule(
    color=GREY, strokeWidth=1.5).encode(
    x=alt.X("x:Q", scale=XR, axis=None), x2="x2:Q", y=alt.Y("y:Q", scale=YI, axis=None))
r_title = alt.Chart(pd.DataFrame({"x": [49.6], "y": [1.2],
                                  "t": ["Multistate stability tests: stop PVS, apply CVS"]})).mark_text(
    fontSize=14, font=FONT, color="#222222", align="center", baseline="middle").encode(
    x=alt.X("x:Q", scale=XR, axis=None), y=alt.Y("y:Q", scale=YI, axis=None), text="t:N")
panel_dr = alt.layer(r_lines, r_border, r_top, r_title, spacer(-9, 0, 0, 0)).properties(
    width=WD2, height=HD, view=alt.ViewBackground(stroke="transparent"))

# ======================= compose =======================
top = alt.hconcat(panel_a, panel_b, panel_c, spacing=0)
bottom = alt.hconcat(panel_dl, panel_dr, spacing=0)
chart = alt.vconcat(top, bottom, spacing=0).properties(
    padding={"left": 2, "top": 0, "right": 0, "bottom": 0}
).configure(font=FONT).configure_axis(
    grid=False, labelFont=FONT, titleFont=FONT, labelFontSize=LBL, titleFontSize=TTL, labelColor="black",
    titleColor="black", titleFontWeight="normal", labelOverlap=False, labelFlush=False
).configure_view(stroke=DARK, strokeWidth=1.5).configure_text(font=FONT)

chart.save("out.html", embed_options={"renderer": "svg", "actions": False})
